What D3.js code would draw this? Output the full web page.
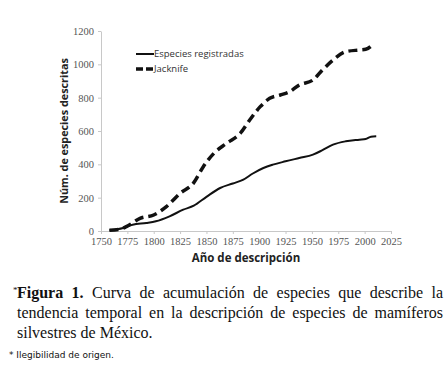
<!DOCTYPE html>
<html>
<head>
<meta charset="utf-8">
<script src="https://cdn.jsdelivr.net/npm/d3@7"></script>
<style>
  body { margin: 0; background: #fff; width: 448px; height: 374px; overflow: hidden; position: relative; }
  .cap { position: absolute; left: 17px; width: 426px; font-family: "Liberation Serif", serif; font-size: 16px; line-height: 20px; color: #111; white-space: nowrap; }
  .just { text-align: justify; text-align-last: justify; }
  .tick text { font-family: "Liberation Serif", serif; }
</style>
</head>
<body>
<div id="chart"></div>
<script>
// cumulative species described per year
const yearsReg = [1758, 1771, 1780, 1793, 1802, 1815, 1828, 1838, 1850, 1863, 1875, 1885, 1894, 1904, 1913, 1925, 1938, 1951, 1960, 1970, 1982, 1995, 2001, 2006, 2011];
const valuesReg = [4, 18, 38, 48, 58, 88, 128, 152, 205, 258, 285, 308, 345, 378, 398, 418, 438, 458, 485, 518, 538, 548, 552, 566, 568];
const yearsJack = [1758, 1768, 1774, 1787, 1800, 1812, 1825, 1838, 1847, 1857, 1869, 1882, 1891, 1901, 1910, 1920, 1929, 1938, 1951, 1960, 1970, 1982, 1995, 2001, 2009];
const valuesJack = [4, 10, 26, 76, 96, 146, 226, 290, 386, 466, 526, 586, 666, 746, 796, 816, 836, 876, 906, 966, 1026, 1076, 1086, 1090, 1126];
const xTicks = [1750, 1775, 1800, 1825, 1850, 1875, 1900, 1925, 1950, 1975, 2000, 2025];
const yTicks = [0, 200, 400, 600, 800, 1000, 1200];
const seriesNames = ['Especies registradas', 'Jacknife'];

const W = 448, H = 374;
const svg = d3.select('#chart').append('svg')
    .attr('width', W).attr('height', H)
    .style('position', 'absolute').style('left', 0).style('top', 0);

const x = d3.scaleLinear().domain([1750, 2025]).range([101, 391]);
const y = d3.scaleLinear().domain([0, 1200]).range([231, 31]);

// axes
const xAxis = svg.append('g').attr('transform', 'translate(0,231)')
    .call(d3.axisBottom(x).tickValues(xTicks).tickFormat(d3.format('d')).tickSize(3).tickPadding(4));
xAxis.select('.domain').attr('stroke', '#c8c8c8');
xAxis.selectAll('line').attr('stroke', '#c8c8c8');
xAxis.selectAll('text').attr('fill', '#555').style('font-size', '10.5px');

const yAxis = svg.append('g').attr('transform', 'translate(101,0)')
    .call(d3.axisLeft(y).tickValues(yTicks).tickFormat(d3.format('d')).tickSize(3).tickPadding(4).tickSizeOuter(0));
yAxis.select('.domain').attr('stroke', '#c8c8c8');
yAxis.selectAll('line').attr('stroke', '#c8c8c8');
yAxis.selectAll('text').attr('fill', '#555').style('font-size', '10.5px');

svg.append('text')
    .attr('transform', 'translate(68,131) rotate(-90)')
    .attr('text-anchor', 'middle')
    .attr('font-family', 'Open Sans, sans-serif').attr('font-weight', 'bold').attr('font-size', '10.8px')
    .attr('fill', '#222')
    .text('Núm. de especies descritas');

svg.append('text')
    .attr('x', 246).attr('y', 262)
    .attr('text-anchor', 'middle')
    .attr('font-family', 'Open Sans, sans-serif').attr('font-weight', 'bold').attr('font-size', '11.5px')
    .attr('fill', '#222')
    .text('Año de descripción');

// lines
const line = d3.line().curve(d3.curveMonotoneX);
svg.append('path')
    .attr('d', line(yearsReg.map((d, i) => [x(d), y(valuesReg[i])])))
    .attr('fill', 'none').attr('stroke', '#111').attr('stroke-width', 2);
svg.append('path')
    .attr('d', line(yearsJack.map((d, i) => [x(d), y(valuesJack[i])])))
    .attr('fill', 'none').attr('stroke', '#111').attr('stroke-width', 3.5)
    .attr('stroke-dasharray', '9,5');

// legend
const legend = svg.append('g');
seriesNames.forEach((name, i) => {
    const ly = 54 + i * 15;
    legend.append('line')
        .attr('x1', 136).attr('x2', 154).attr('y1', ly).attr('y2', ly)
        .attr('stroke', '#111')
        .attr('stroke-width', i === 0 ? 2 : 3.5)
        .attr('stroke-dasharray', i === 0 ? null : '7,3');
    legend.append('text')
        .attr('x', 154).attr('y', ly).attr('dy', '0.35em')
        .attr('font-family', 'Open Sans, sans-serif').attr('font-size', '9.5px')
        .attr('fill', '#333')
        .text(name);
});

// caption
const body = d3.select('body');
const l1 = body.append('div').attr('class', 'cap just').style('top', '283px');
l1.append('span').style('font-size', '9px').style('position', 'absolute').style('left', '-4px').style('top', '-3px').text('*');
l1.append('b').text('Figura 1.');
l1.append('span').text(' Curva de acumulación de especies que describe la');
body.append('div').attr('class', 'cap just').style('top', '303px')
    .text('tendencia temporal en la descripción de especies de mamíferos');
body.append('div').attr('class', 'cap').style('top', '323px')
    .text('silvestres de México.');
body.append('div')
    .style('position', 'absolute').style('left', '9px').style('top', '350px')
    .style('font-family', 'DejaVu Sans, sans-serif').style('font-size', '9px').style('color', '#111')
    .text('* Ilegibilidad de origen.');
</script>
</body>
</html>
